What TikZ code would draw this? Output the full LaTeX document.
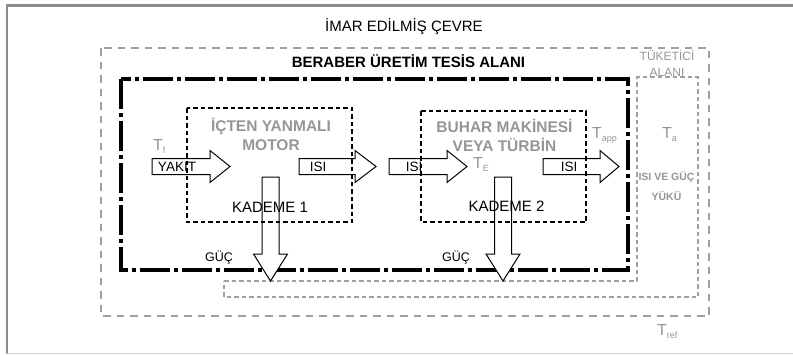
\documentclass[tikz,border=0pt]{standalone}
\usepackage{fontspec}
\setmainfont{Liberation Sans}
\newcommand{\Tsub}[1]{T\raisebox{-0.45ex}{\fontsize{9}{9}\selectfont #1}}
\begin{document}
\begin{tikzpicture}[x=1pt,y=-1pt]
    \definecolor{myFrame}{RGB}{140,140,140}
    \definecolor{myLine}{RGB}{160,160,160}
    \definecolor{myText}{RGB}{150,150,150}
    \tikzset{
        bigtxt/.style={font=\fontsize{15}{18}\selectfont, inner sep=0},
        graytxt/.style={text=myText, font=\bfseries\fontsize{15.5}{19}\selectfont, inner sep=0, align=center},
        arrtxt/.style={font=\fontsize{13.5}{16}\selectfont, inner sep=0},
        tlab/.style={text=myText, font=\fontsize{16}{18}\selectfont, inner sep=0, anchor=base west},
        blockarr/.style={draw, fill=white, line width=1pt, line join=miter},
        stagebox/.style={line width=1.9pt, dash pattern=on 4.5pt off 3pt}
    }
    \useasboundingbox (0,0) rectangle (793,354);

    % page frame
    \draw[myFrame, line width=2.5pt] (7,354) -- (7,5.5) -- (793,5.5);
    \draw[myFrame!40, line width=1pt] (7,353) -- (793,353);

    % built environment and consumer area
    \draw[myLine, line width=2pt, dash pattern=on 7.5pt off 6pt] (101,48) rectangle (709,316);
    \draw[myLine, line width=2pt, dash pattern=on 4.5pt off 3pt]
        (224,281) -- (637,281) -- (637,77) -- (698,77) -- (698,297) -- (224,297) -- cycle;

    % plant area
    \draw[line width=3.2pt, dash pattern=on 30pt off 4pt on 4pt off 4pt] (121,79) rectangle (628,270);

    % heat and fuel arrows
    \foreach \xa/\xb/\xc/\lab/\xl in {152/210/230/YAKIT/177, 299/355/376/ISI/318,
                                       389/447/467/ISI/414, 543/600/619/ISI/569}{
        \draw[blockarr] (\xa,158.5) -- (\xb,158.5) -- (\xb,150.5) -- (\xc,166.5)
            -- (\xb,182.5) -- (\xb,174.5) -- (\xa,174.5) -- cycle;
        \node[arrtxt] (in-\xl) at (\xl,166.5) {\lab};
    }

    % power arrows
    \foreach \xm in {270.5,503}{
        \draw[blockarr] ({\xm-8.5},177) -- ({\xm+8.5},177) -- ({\xm+8.5},254) -- ({\xm+17},254)
            -- (\xm,281) -- ({\xm-17},254) -- ({\xm-8.5},254) -- cycle;
    }

    % stages
    \draw[stagebox] (187,108) rectangle (352,222);
    \draw[stagebox] (421,111) rectangle (586,222);

    % texts
    \node[bigtxt] (cevre) at (404,27) {İMAR EDİLMİŞ ÇEVRE};
    \node[bigtxt, font=\bfseries\fontsize{15}{18}\selectfont] (tesis) at (408.5,61) {BERABER ÜRETİM TESİS ALANI};
    \node[text=myText, font=\fontsize{12}{16}\selectfont, align=center, inner sep=0] (tuketici) at (667,63) {TÜKETİCİ\\ALANI};

    \node[graytxt] (motor) at (271,134) {İÇTEN YANMALI\\MOTOR};
    \node[graytxt] (turbin) at (504.5,135.5) {BUHAR MAKİNESİ\\VEYA TÜRBİN};
    \node[bigtxt] (kademe1) at (270,207.5) {KADEME 1};
    \node[bigtxt] (kademe2) at (506.5,206) {KADEME 2};
    \node[arrtxt, font=\fontsize{12.5}{15}\selectfont] (guc1) at (219,258) {GÜÇ};
    \node[arrtxt, font=\fontsize{12.5}{15}\selectfont] (guc2) at (456,257.5) {GÜÇ};

    \node[tlab] (tf) at (153,150) {\Tsub{f}};
    \node[tlab] (te) at (473,168) {\Tsub{E}};
    \node[tlab] (tapp) at (592,138) {\Tsub{app}};
    \node[tlab] (ta) at (662,138) {\Tsub{a}};
    \node[tlab] (tref) at (657,335) {\Tsub{ref}};
    \node[text=myText, font=\bfseries\fontsize{10.5}{19.5}\selectfont, align=center, inner sep=0] (yuk) at (666.5,186) {ISI VE GÜÇ\\YÜKÜ};
\end{tikzpicture}
\end{document}
